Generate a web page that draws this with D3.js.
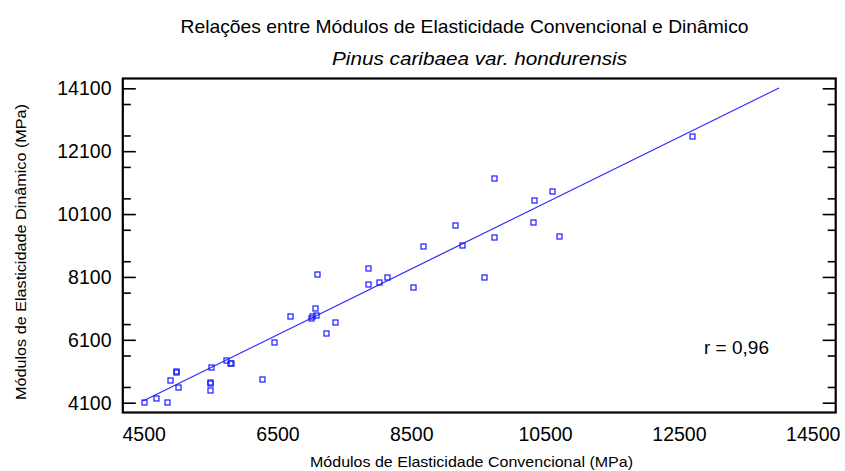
<!DOCTYPE html>
<html>
<head>
<meta charset="utf-8">
<script src="https://cdn.jsdelivr.net/npm/d3@7/dist/d3.min.js"></script>
<style>
  html, body { margin: 0; padding: 0; background: #fff; }
  svg { display: block; font-family: "Liberation Sans", Arial, sans-serif; }
</style>
</head>
<body>
<svg id="chart" width="845" height="471"></svg>
<script>
// Conventional modulus (x) and dynamic modulus (y), MPa
const modConv = [4490, 4676, 4836, 4890, 4971, 4975, 5001, 5484, 5488, 5484, 5503, 5727, 5787, 5802,
                 6265, 6436, 6684, 7088, 7058, 7004, 6989, 7073, 7222, 7352, 7841, 7841, 8014, 8134,
                 8523, 8663, 9146, 9246, 9575, 9729, 9729, 10331, 10316, 10596, 10705, 12684];
const modDin  = [4122, 4250, 4122, 4822, 5099, 5061, 4590, 4727, 4760, 4494, 5226, 5458, 5372, 5353,
                 4863, 6040, 6848, 8184, 7112, 6848, 6785, 6890, 6308, 6677, 8385, 7885, 7949, 8089,
                 7780, 9094, 9762, 9126, 8089, 11248, 9361, 10538, 9839, 10834, 9403, 12584];

// Fitted regression line (end points)
const fitConv = [4482, 13989];
const fitDin  = [4154, 14111];

const xTicks = [4500, 6500, 8500, 10500, 12500, 14500];
const yTicks = [4100, 6100, 8100, 10100, 12100, 14100];
const yMinorStep = 500;

const titleText = "Relações entre Módulos de Elasticidade Convencional e Dinâmico";
const subtitleText = "Pinus caribaea var. hondurensis";
const xTitle = "Módulos de Elasticidade Convencional (MPa)";
const yTitle = "Módulos de Elasticidade Dinâmico (MPa)";
const rText = "r = 0,96";

const svg = d3.select("#chart");
const L = 122.8, R = 835.7, T = 78.5, B = 412.5;

const x = d3.scaleLinear().domain([4180, 14836]).range([L, R]);
const y = d3.scaleLinear().domain([3788, 14412]).range([B, T]);

// Titles
svg.append("text").attr("x", 180.5).attr("y", 33.3)
  .attr("font-size", 18.5).attr("fill", "#000")
  .attr("textLength", 568).attr("lengthAdjust", "spacingAndGlyphs")
  .text(titleText);
svg.append("text").attr("x", 332).attr("y", 65)
  .attr("font-size", 18.5).attr("font-style", "italic").attr("fill", "#000")
  .attr("textLength", 295).attr("lengthAdjust", "spacingAndGlyphs")
  .text(subtitleText);

// Left and right y axes with inward ticks
const yMinor = d3.range(yTicks[0] + yMinorStep, 14412, 1000);
const axisL = d3.axisRight(y).tickValues(yTicks).tickSize(13).tickFormat("");
const axisLm = d3.axisRight(y).tickValues(yMinor).tickSize(8).tickFormat("");
const axisR = d3.axisLeft(y).tickValues(yTicks).tickSize(13).tickFormat("");
const axisRm = d3.axisLeft(y).tickValues(yMinor).tickSize(8).tickFormat("");

function styleAxis(g) {
  g.select(".domain").remove();
  g.selectAll(".tick line").attr("stroke", "#000").attr("stroke-width", 1.6);
}
svg.append("g").attr("transform", `translate(${L},0)`).call(axisL).call(styleAxis);
svg.append("g").attr("transform", `translate(${L},0)`).call(axisLm).call(styleAxis);
svg.append("g").attr("transform", `translate(${R},0)`).call(axisR).call(styleAxis);
svg.append("g").attr("transform", `translate(${R},0)`).call(axisRm).call(styleAxis);

// Y tick labels
svg.append("g").selectAll("text").data(yTicks).join("text")
  .attr("x", 111.5).attr("y", d => y(d) + 7)
  .attr("text-anchor", "end").attr("font-size", 19.5).attr("fill", "#000")
  .text(d => d);

// X tick labels
svg.append("g").selectAll("text").data(xTicks).join("text")
  .attr("x", d => x(d)).attr("y", 441)
  .attr("text-anchor", "middle").attr("font-size", 19.5).attr("fill", "#000")
  .text(d => d);

// Axis titles
svg.append("text").attr("x", 310).attr("y", 467)
  .attr("font-size", 15).attr("fill", "#000")
  .attr("textLength", 323).attr("lengthAdjust", "spacingAndGlyphs")
  .text(xTitle);
svg.append("text")
  .attr("transform", "translate(26,400) rotate(-90)")
  .attr("font-size", 15).attr("fill", "#000")
  .attr("textLength", 296).attr("lengthAdjust", "spacingAndGlyphs")
  .text(yTitle);

// Fitted line
const pts = fitConv.map((v, i) => [v, fitDin[i]]);
svg.append("path")
  .attr("d", d3.line().x(d => x(d[0])).y(d => y(d[1]))(pts))
  .attr("fill", "none").attr("stroke", "#2a2aff").attr("stroke-width", 1.2);

// Observations as open squares
svg.append("g").selectAll("rect").data(modConv).join("rect")
  .attr("x", d => Math.round(x(d)) - 2)
  .attr("y", (d, i) => Math.round(y(modDin[i])) - 2)
  .attr("width", 5).attr("height", 5)
  .attr("fill", "none").attr("stroke", "#1a1aff").attr("stroke-width", 1.2);

// Correlation annotation
svg.append("text").attr("x", 704).attr("y", 354)
  .attr("font-size", 19).attr("fill", "#000")
  .text(rText);

// Frame
svg.append("rect").attr("x", L).attr("y", T).attr("width", R - L).attr("height", B - T)
  .attr("fill", "none").attr("stroke", "#000").attr("stroke-width", 2.2);
</script>
</body>
</html>
